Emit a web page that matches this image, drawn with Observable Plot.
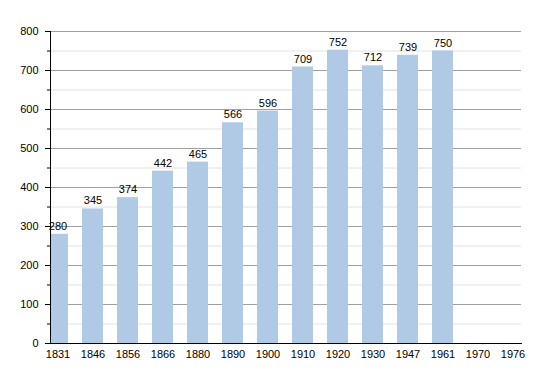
<!DOCTYPE html>
<html><head><meta charset="utf-8">
<script src="https://cdn.jsdelivr.net/npm/d3@7"></script>
<script src="https://cdn.jsdelivr.net/npm/@observablehq/plot@0.6"></script>
<style>body{margin:0;background:#fff;font-family:"Liberation Sans",Arial,sans-serif;}</style>
</head><body><div id="chart"></div>
<script>
const years = ["1831","1846","1856","1866","1880","1890","1900","1910","1920","1930","1947","1961","1970","1976"];
const population = [280,345,374,442,465,566,596,709,752,712,739,750,null,null];
const majorTicks = [0,100,200,300,400,500,600,700,800];
const minorTicks = [50,150,250,350,450,550,650,750];

const data = years.map((y,i)=>({year:y, pop:population[i]}));
const bars = data.filter(d=>d.pop!=null);

const chart = Plot.plot({
  width:550, height:373,
  marginLeft:50, marginRight:29, marginTop:31, marginBottom:30,
  style:{fontFamily:"'Liberation Sans', Arial, sans-serif", fontSize:"11px", color:"#000", background:"#fff"},
  x:{domain:years, range:[42.4,526.8], paddingInner:0.41, paddingOuter:0, label:null},
  y:{domain:[0,800], label:null},
  marks:[
    Plot.ruleY(minorTicks,{stroke:"#e2e2e2", strokeWidth:1}),
    Plot.ruleY(majorTicks.filter(v=>v>0),{stroke:"#a0a0a0", strokeWidth:1}),
    Plot.barY(bars,{x:"year", y:"pop", fill:"#b0c9e4", clip:true}),
    Plot.text(bars,{x:"year", y:"pop", text:d=>String(d.pop), dy:-8, fontSize:11, fill:"#000"}),
    Plot.axisY({ticks:minorTicks, tickFormat:()=>"", tickSize:3, label:null}),
    Plot.axisY({ticks:majorTicks, tickSize:5, tickPadding:7, label:null, fontSize:11}),
    Plot.axisX({tickSize:0, tickPadding:7, label:null, fontSize:11}),
    Plot.frame({anchor:"left", stroke:"#000"}),
    Plot.frame({anchor:"bottom", stroke:"#000"})
  ]
});
document.getElementById("chart").appendChild(chart);
</script>
</body></html>
